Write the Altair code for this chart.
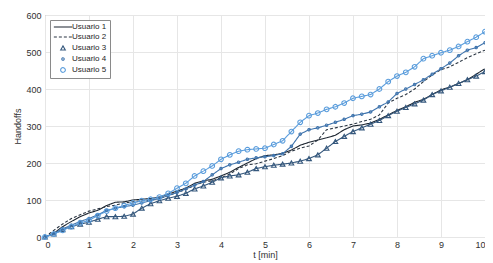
import altair as alt
import pandas as pd

t = [round(i * 0.2, 1) for i in range(51)]
series = ["Usuario 1", "Usuario 2", "Usuario 3", "Usuario 4", "Usuario 5"]
u1 = [0, 10, 28, 42, 55, 65, 72, 85, 94, 95, 100, 102, 104, 108, 116, 124, 132, 145, 152, 156,
      165, 175, 188, 200, 212, 220, 222, 226, 235, 248, 256, 262, 268, 275, 290, 300, 303, 308,
      318, 330, 342, 352, 364, 372, 385, 398, 405, 415, 425, 440, 455]
u2 = [0, 18, 35, 50, 60, 70, 76, 82, 86, 92, 95, 98, 100, 104, 112, 120, 128, 140, 148, 152,
      160, 170, 185, 195, 198, 205, 212, 220, 232, 240, 246, 262, 290, 295, 300, 305, 312, 318,
      330, 362, 375, 385, 400, 420, 438, 452, 460, 472, 485, 495, 505]
u3 = [0, 8, 20, 28, 35, 40, 48, 55, 55, 56, 62, 78, 90, 98, 105, 110, 118, 130, 138, 148,
      160, 165, 168, 175, 185, 190, 194, 197, 200, 205, 212, 222, 240, 258, 272, 285, 295, 305,
      315, 328, 340, 350, 360, 370, 385, 395, 405, 415, 425, 435, 447]
u4 = [0, 10, 22, 32, 42, 50, 60, 72, 78, 82, 86, 92, 98, 104, 112, 120, 130, 140, 150, 168,
      185, 195, 202, 210, 214, 217, 220, 225, 245, 278, 290, 295, 302, 310, 318, 328, 332, 338,
      352, 365, 388, 400, 412, 425, 440, 455, 470, 490, 505, 512, 525]
u5 = [0, 8, 18, 28, 38, 45, 58, 70, 78, 85, 92, 98, 102, 108, 118, 132, 145, 165, 178, 192,
      210, 222, 232, 236, 238, 240, 250, 260, 285, 310, 328, 335, 345, 352, 362, 375, 380, 385,
      400, 420, 435, 445, 460, 482, 490, 498, 505, 515, 528, 540, 555]
colors = ["#1c2530", "#2a3542", "#34577c", "#3f74ad", "#5b9ddc"]
dashes = [[1, 0], [3, 2], [1, 0], [1, 0], [1, 0]]
line_path = "M-3.9,0H3.9"
shapes = [line_path, line_path, "triangle-up", "circle", "circle"]
sizes = [22, 22, 22, 6, 22]

rows = []
for name, vals in zip(series, [u1, u2, u3, u4, u5]):
    for ti, v in zip(t, vals):
        rows.append({"t": ti, "Handoffs": v, "Usuario": name})
df = pd.DataFrame(rows)

font = "Liberation Sans"
xenc = alt.X("t:Q", title="t [min]", scale=alt.Scale(domain=[0, 10], nice=False),
             axis=alt.Axis(values=list(range(11)), format="d"))
yenc = alt.Y("Handoffs:Q", title="Handoffs", scale=alt.Scale(domain=[0, 600], nice=False),
             axis=alt.Axis(values=list(range(0, 601, 100))))
cenc = alt.Color("Usuario:N", scale=alt.Scale(domain=series, range=colors), title=None)
denc = alt.StrokeDash("Usuario:N", scale=alt.Scale(domain=series, range=dashes), title=None)
senc = alt.Shape("Usuario:N", scale=alt.Scale(domain=series, range=shapes), title=None)
zenc = alt.Size("Usuario:N", scale=alt.Scale(type="ordinal", domain=series, range=sizes), title=None)

lines = alt.Chart(df).mark_line(interpolate="linear", strokeWidth=1.1).encode(
    x=xenc, y=yenc, color=cenc, strokeDash=denc, detail="Usuario:N"
)
points = alt.Chart(df).transform_filter(
    alt.FieldOneOfPredicate(field="Usuario", oneOf=series[2:])
).mark_point(filled=False, strokeWidth=1.1, opacity=1).encode(
    x=xenc, y=yenc, color=cenc, shape=senc, size=zenc, strokeDash=denc
)

chart = alt.layer(lines, points).properties(
    width=440, height=222,
    autosize=alt.AutoSizeParams(type="none"),
    padding={"left": 37, "top": 7, "right": 0, "bottom": 26},
).configure_view(stroke="#9a9a9a", strokeWidth=1).configure_axis(
    labelFont=font, titleFont=font, labelFontSize=9, titleFontSize=9,
    labelColor="#303030", titleColor="#303030", titleFontWeight="normal",
    grid=True, gridColor="#e6e6e6", gridWidth=1, ticks=False, domain=False,
    labelPadding=4,
).configure_axisY(titlePadding=3).configure_axisX(titlePadding=1, labelPadding=3).configure_legend(
    orient="none", legendX=5, legendY=5, labelFont=font, labelFontSize=8,
    labelColor="#262626", strokeColor="#8a8a8a", fillColor="white", padding=3,
    rowPadding=2, symbolStrokeWidth=1.1, labelOffset=5, symbolOffset=6,
)
chart.save("out.html", embed_options={"renderer": "svg", "actions": False})
